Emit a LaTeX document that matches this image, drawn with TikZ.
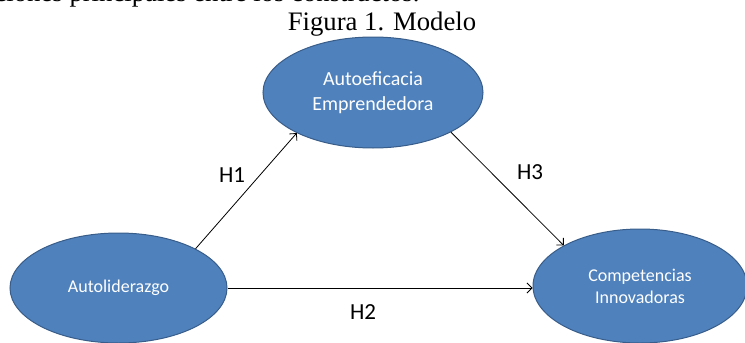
\documentclass[tikz,border=0pt]{standalone}
\usepackage{fontspec}
\setmainfont{Liberation Serif}
\newfontfamily\calibri{Carlito}
\usetikzlibrary{shapes.geometric,arrows.meta}
\definecolor{ovalblue}{RGB}{79,129,189}
\definecolor{ovalline}{RGB}{56,93,138}
\begin{document}
\begin{tikzpicture}[x=1pt,y=-1pt,
    construct/.style={ellipse,draw=ovalline,line width=1pt,fill=ovalblue,text=white,inner sep=0pt,align=center,font=\calibri\fontsize{18}{22}\selectfont},
    hyp/.style={font=\calibri\fontsize{23}{27}\selectfont},
    link/.style={line width=0.8pt,black,-{Straight Barb[length=5pt,width=10pt]}}]
          \useasboundingbox (0,0) rectangle (745,343);
          \node[anchor=base east,font=\fontsize{26.7}{32}\selectfont] (intro) at (423,1.5) {ciones principales entre los constructos.};
          \node[anchor=base,font=\fontsize{26.7}{32}\selectfont] (caption) at (382,30) {Figura 1. Modelo};
          \node[construct,minimum width=220pt,minimum height=111pt,font=\calibri\fontsize{20}{25}\selectfont] (auto) at (373,92.5) {Autoeficacia\\Emprendedora};
          \node[construct,minimum width=217pt,minimum height=110pt] (lider) at (118.5,288) {Autoliderazgo};
          \node[construct,minimum width=214pt,minimum height=114pt] (compet) at (640,286) {Competencias\\Innovadoras};
          \draw[link] (lider.27) -- (auto.208);
          \draw[link] (auto.333) -- (compet.152);
          \draw[link] (lider.east) -- (lider.east -| compet.west);
          \node[hyp] (h1) at (232,175) {H1};
          \node[hyp] (h2) at (363,312) {H2};
          \node[hyp] (h3) at (530,172) {H3};
        \end{tikzpicture}
\end{document}
